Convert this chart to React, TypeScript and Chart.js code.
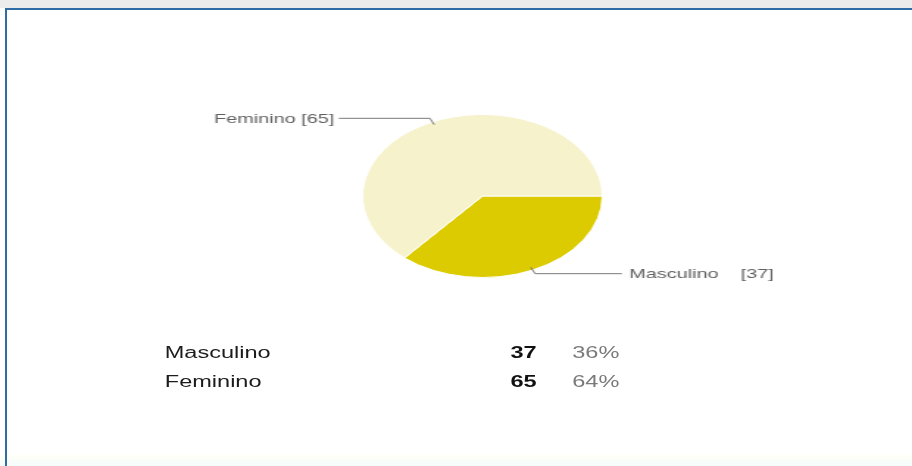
import React, { useEffect, useRef } from "react";
import { Chart, registerables } from "chart.js";

Chart.register(...registerables);

const categories = ["Masculino", "Feminino"];
const counts = [37, 65];
const sliceColors = ["#DCCB00", "#F6F2CC"];

const STRETCH = 1.471;
const INNER_W = 620;
const H = 466;

const leaderPlugin = {
  id: "leaders",
  afterDatasetsDraw(chart: any) {
    const ctx = chart.ctx;
    const meta = chart.getDatasetMeta(0);
    const ds = chart.data.datasets[0];
    meta.data.forEach((arc: any, i: number) => {
      const p = arc.getProps(["x", "y", "startAngle", "endAngle", "outerRadius"], true);
      const mid = (p.startAngle + p.endAngle) / 2;
      const c = Math.cos(mid);
      const s = Math.sin(mid);
      const sx = p.x + c * (p.outerRadius - 3);
      const sy = p.y + s * (p.outerRadius - 3);
      const ex = p.x + c * (p.outerRadius + 4);
      const ey = p.y + s * (p.outerRadius + 4);
      const dir = c >= 0 ? 1 : -1;
      const hx = ex + dir * (dir > 0 ? 59 : 62);
      ctx.save();
      ctx.strokeStyle = "#7a7a7a";
      ctx.lineWidth = 1;
      ctx.beginPath();
      ctx.moveTo(sx, sy);
      ctx.lineTo(ex, ey);
      ctx.lineTo(hx, ey);
      ctx.stroke();
      ctx.font = '13.5px "Liberation Sans", Arial, sans-serif';
      ctx.fillStyle = "#606060";
      ctx.textBaseline = "middle";
      const name = chart.data.labels[i];
      const val = "[" + ds.data[i] + "]";
      if (dir > 0) {
        ctx.textAlign = "left";
        const tx = hx + 5;
        ctx.fillText(name, tx, ey + 1);
        const w = ctx.measureText(name).width;
        ctx.fillText(val, tx + w + 15, ey + 1);
      } else {
        ctx.textAlign = "right";
        ctx.fillText(name + " " + val, hx - 3, ey + 1);
      }
      ctx.restore();
    });
  },
};

export default function App() {
  const ref = useRef<HTMLCanvasElement | null>(null);

  useEffect(() => {
    if (!ref.current) return;
    const chart = new Chart(ref.current, {
      type: "pie",
      data: {
        labels: categories,
        datasets: [
          {
            data: counts,
            backgroundColor: sliceColors,
            borderColor: "#ffffff",
            borderWidth: 1,
          },
        ],
      },
      options: {
        responsive: false,
        animation: false,
        rotation: 90,
        events: [],
        layout: { padding: { left: 246, right: 210, top: 113, bottom: 187 } },
        plugins: {
          legend: { display: false },
          tooltip: { enabled: false },
          title: { display: false },
        },
      },
      plugins: [leaderPlugin],
    });
    return () => chart.destroy();
  }, []);

  const total = counts.reduce((a, b) => a + b, 0);

  return (
    <div
      style={{
        position: "fixed",
        left: 0,
        top: 0,
        width: 912,
        height: H,
        background: "#ffffff",
        overflow: "hidden",
        fontFamily: '"Liberation Sans", Arial, sans-serif',
      }}
    >
      <div style={{ position: "absolute", left: 0, top: 0, width: 912, height: 8, background: "#ececec" }} />
      <div
        style={{
          position: "absolute",
          left: 0,
          top: 455,
          width: 912,
          height: 11,
          background: "linear-gradient(#fffff6, #f4fcfb)",
        }}
      />
      <div
        style={{
          position: "absolute",
          left: 0,
          top: 0,
          width: INNER_W,
          height: H,
          transform: `scaleX(${STRETCH})`,
          transformOrigin: "0 0",
        }}
      >
        <canvas ref={ref} width={INNER_W} height={H} style={{ display: "block" }} />
        {categories.map((cat, i) => (
          <div
            key={cat}
            style={{
              position: "absolute",
              left: 0,
              top: 343 + i * 29,
              width: INNER_W,
              height: 20,
              lineHeight: "20px",
              fontSize: 16,
              whiteSpace: "nowrap",
            }}
          >
            <span style={{ position: "absolute", left: 112, color: "#1c1c1c" }}>{cat}</span>
            <span style={{ position: "absolute", left: 347, color: "#111111", fontWeight: "bold" }}>
              {counts[i]}
            </span>
            <span style={{ position: "absolute", left: 389, color: "#7a7a7a" }}>
              {Math.round((counts[i] / total) * 100)}%
            </span>
          </div>
        ))}
      </div>
      <div style={{ position: "absolute", left: 5, top: 8, width: 907, height: 2, background: "#2f6ca6" }} />
      <div style={{ position: "absolute", left: 5, top: 8, width: 2, height: H - 8, background: "#2f6ca6" }} />
    </div>
  );
}
